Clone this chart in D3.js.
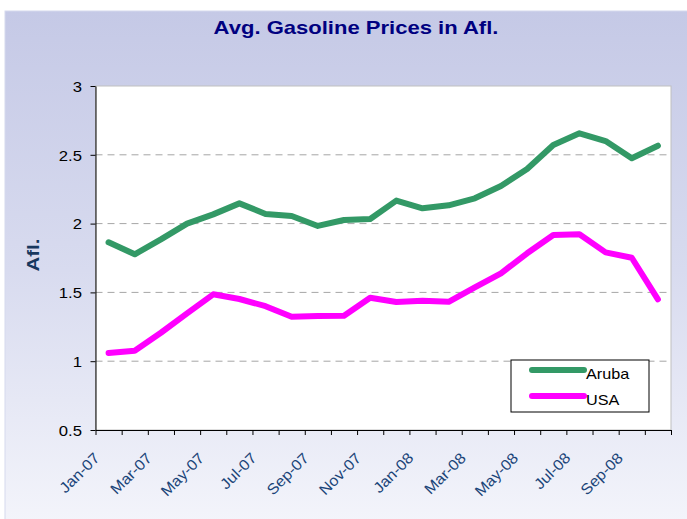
<!DOCTYPE html>
<html>
<head>
<meta charset="utf-8">
<script src="https://cdn.jsdelivr.net/npm/d3@7"></script>
<style>
  body { margin: 0; background: #fff; }
  text { font-family: Arial, "Liberation Sans", sans-serif; }
</style>
</head>
<body>
<svg id="chart"></svg>
<script>
// monthly averages, Jan-07 .. Oct-08
const months = ["Jan-07","Feb-07","Mar-07","Apr-07","May-07","Jun-07","Jul-07","Aug-07","Sep-07","Oct-07","Nov-07","Dec-07",
                "Jan-08","Feb-08","Mar-08","Apr-08","May-08","Jun-08","Jul-08","Aug-08","Sep-08","Oct-08"];
const aruba = [1.864, 1.777, 1.885, 2.0, 2.067, 2.147, 2.07, 2.055, 1.983, 2.026, 2.033, 2.167,
               2.111, 2.133, 2.184, 2.273, 2.397, 2.571, 2.656, 2.6, 2.475, 2.566];
const usa = [1.06, 1.076, 1.207, 1.348, 1.486, 1.452, 1.40, 1.323, 1.328, 1.33, 1.461, 1.43,
             1.44, 1.432, 1.537, 1.639, 1.784, 1.917, 1.922, 1.791, 1.752, 1.45];
const yTicks = [0.5, 1, 1.5, 2, 2.5, 3];
const seriesNames = ["Aruba", "USA"];
const seriesColors = ["#339966", "#FF00FF"];

var width = 687;
var height = 519;
var marginLeft = 95.5;
var marginRight = 16;
var marginTop = 86;
var marginBottom = 89;

const svg = d3.select("#chart")
    .attr("width", width)
    .attr("height", height)
    .attr("viewBox", [0, 0, width, height]);

// background gradient of the chart area
const grad = svg.append("defs").append("linearGradient")
    .attr("id", "bg").attr("x1", 0).attr("y1", 0).attr("x2", 0).attr("y2", 1);
grad.append("stop").attr("offset", "0%").attr("stop-color", "#C5C9E6");
grad.append("stop").attr("offset", "50%").attr("stop-color", "#D8DBEF");
grad.append("stop").attr("offset", "100%").attr("stop-color", "#F4F5FB");

svg.append("rect")
    .attr("x", 5).attr("y", 11)
    .attr("width", width + 10).attr("height", height)
    .attr("fill", "url(#bg)")
    .attr("stroke", "#D6D9EE");

const x = d3.scaleBand(months, [marginLeft, width - marginRight]);
const xi = d3.scaleLinear([0, months.length], [marginLeft, width - marginRight]);
const y = d3.scaleLinear([0.5, 3], [height - marginBottom, marginTop]);

// plot area
svg.append("rect")
    .attr("x", marginLeft).attr("y", marginTop)
    .attr("width", width - marginRight - marginLeft)
    .attr("height", height - marginBottom - marginTop)
    .attr("fill", "#fff")
    .attr("stroke", "#BFBFBF");

// dashed grid
svg.append("g")
  .selectAll("line")
  .data(yTicks.slice(1, -1))
  .join("line")
    .attr("x1", marginLeft).attr("x2", width - marginRight)
    .attr("y1", d => y(d)).attr("y2", d => y(d))
    .attr("stroke", "#A6A6A6")
    .attr("stroke-dasharray", "7,5");

// y axis
svg.append("g")
    .attr("transform", `translate(${marginLeft},0)`)
    .call(d3.axisLeft(y).tickValues(yTicks).tickSize(5).tickSizeOuter(0).tickFormat(d3.format("")))
    .call(g => g.selectAll("path, line").attr("stroke", "#000"))
    .call(g => g.selectAll("text")
        .attr("x", null)
        .attr("dy", "0.36em")
        .attr("transform", "translate(-13.5,0) scale(1.15,1)")
        .attr("fill", "#000")
        .attr("font-size", 14.5)
        .attr("font-family", "Arial, 'Liberation Sans', sans-serif"));

// x axis: ticks at category edges
svg.append("g")
    .attr("transform", `translate(0,${height - marginBottom})`)
    .call(d3.axisBottom(xi).tickValues(d3.range(0, months.length + 1)).tickSize(5).tickSizeOuter(0).tickFormat(""))
    .call(g => g.selectAll("path, line").attr("stroke", "#000"));

svg.append("g")
  .selectAll("text")
  .data(months.filter((d, i) => i % 2 === 0))
  .join("text")
    .attr("transform", d => `translate(${x(d) + x.bandwidth() / 2 - 8},${height - marginBottom + 29}) rotate(-45) scale(1.08,1)`)
    .attr("text-anchor", "end")
    .attr("font-size", 15)
    .attr("fill", "#1A4478")
    .text(d => d);

// lines
const line = d3.line()
    .x((d, i) => x(months[i]) + x.bandwidth() / 2)
    .y(d => y(d));

svg.append("g")
  .selectAll("path")
  .data([aruba, usa])
  .join("path")
    .attr("fill", "none")
    .attr("stroke", (d, i) => seriesColors[i])
    .attr("stroke-width", 6)
    .attr("stroke-linejoin", "round")
    .attr("stroke-linecap", "round")
    .attr("d", line);

// title
svg.append("text")
    .attr("transform", "translate(356,34) scale(1.16,1)")
    .attr("text-anchor", "middle")
    .attr("font-size", 19)
    .attr("font-weight", "bold")
    .attr("fill", "#000080")
    .text("Avg. Gasoline Prices in Afl.");

// y label
svg.append("text")
    .attr("transform", "translate(39,255) rotate(-90) scale(1.2,1)")
    .attr("text-anchor", "middle")
    .attr("font-size", 17)
    .attr("font-weight", "bold")
    .attr("fill", "#17375E")
    .text("Afl.");

// legend
const legend = svg.append("g").attr("transform", "translate(511,360)");
legend.append("rect")
    .attr("width", 138).attr("height", 52)
    .attr("fill", "#fff").attr("stroke", "#000");
const item = legend.selectAll(".legend")
  .data(seriesNames)
  .join("g")
    .attr("class", "legend")
    .attr("transform", (d, i) => `translate(0,${10 + i * 26})`);
item.append("line")
    .attr("x1", 21).attr("x2", 73)
    .attr("stroke", (d, i) => seriesColors[i])
    .attr("stroke-width", 6)
    .attr("stroke-linecap", "round");
item.append("text")
    .attr("transform", "translate(75,8.5) scale(1.08,1)")
    .attr("font-size", 15)
    .attr("fill", "#000")
    .text(d => d);
</script>
</body>
</html>
